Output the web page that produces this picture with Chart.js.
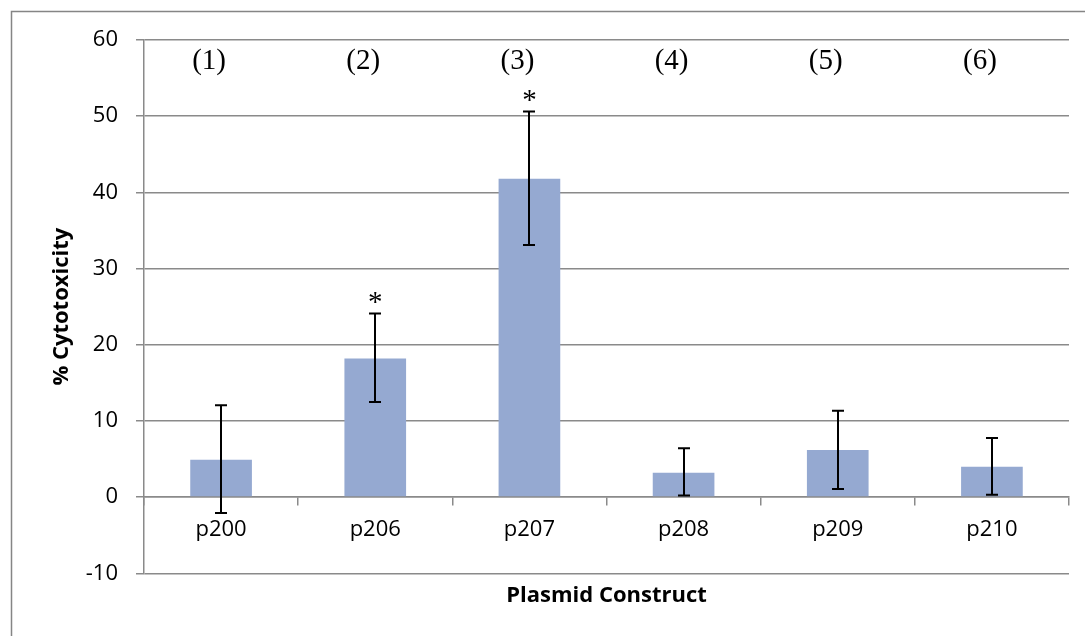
<!DOCTYPE html>
<html>
<head>
<meta charset="utf-8">
<script src="https://cdn.jsdelivr.net/npm/chart.js@4/dist/chart.umd.min.js"></script>
<style>
html,body{margin:0;padding:0;background:#fff;}
canvas{display:block;}
</style>
</head>
<body>
<canvas id="c" width="1085" height="636"></canvas>
<script>
// ---- data ----
const categories = ['p200', 'p206', 'p207', 'p208', 'p209', 'p210'];
const cytotoxicity = [4.9, 18.2, 41.8, 3.2, 6.2, 4.0];
const errorLow = [-2.1, 12.5, 33.1, 0.2, 1.05, 0.3];
const errorHigh = [12.05, 24.1, 50.6, 6.4, 11.35, 7.75];
const groupLabels = ['(1)', '(2)', '(3)', '(4)', '(5)', '(6)'];
const significance = ['', '*', '*', '', '', ''];
const yTicks = [-10, 0, 10, 20, 30, 40, 50, 60];

const GRID = '#8a8a8a';

const framePlugin = {
  id: 'frame',
  beforeDraw(chart) {
    const ctx = chart.ctx;
    ctx.save();
    ctx.fillStyle = '#fff';
    ctx.fillRect(0, 0, chart.width, chart.height);
    ctx.strokeStyle = '#858585';
    ctx.lineWidth = 1.5;
    ctx.strokeRect(11.5, 11.5, 2000, 2000);
    ctx.restore();
  }
};

const errorBarPlugin = {
  id: 'errorBars',
  afterDatasetsDraw(chart) {
    const ctx = chart.ctx;
    const ys = chart.scales.y;
    const meta = chart.getDatasetMeta(0);
    ctx.save();
    ctx.strokeStyle = '#000';
    ctx.lineWidth = 2;
    meta.data.forEach((bar, i) => {
      const x = Math.round(bar.x);
      const yl = ys.getPixelForValue(errorLow[i]);
      const yh = ys.getPixelForValue(errorHigh[i]);
      ctx.beginPath();
      ctx.moveTo(x, yl); ctx.lineTo(x, yh);
      ctx.moveTo(x - 6, yl); ctx.lineTo(x + 6, yl);
      ctx.moveTo(x - 6, yh); ctx.lineTo(x + 6, yh);
      ctx.stroke();
    });
    // annotations
    ctx.fillStyle = '#000';
    ctx.textAlign = 'center';
    ctx.textBaseline = 'middle';
    ctx.font = '29px "Liberation Serif", "Times New Roman", serif';
    const xs = chart.scales.x;
    groupLabels.forEach((t, i) => {
      ctx.fillText(t, xs.getPixelForValue(i) - 12, ys.getPixelForValue(57.2));
    });
    significance.forEach((t, i) => {
      if (!t) return;
      ctx.fillText(t, xs.getPixelForValue(i), ys.getPixelForValue(errorHigh[i]) - 10);
    });
    ctx.restore();
  }
};

new Chart(document.getElementById('c'), {
  type: 'bar',
  data: {
    labels: categories,
    datasets: [{
      data: cytotoxicity,
      backgroundColor: '#95a9d1',
      borderWidth: 0,
      barPercentage: 0.4,
      categoryPercentage: 1.0
    }]
  },
  options: {
    responsive: false,
    animation: false,
    events: [],
    layout: { padding: { left: 0, top: 40, right: 16, bottom: 0 } },
    plugins: {
      legend: { display: false },
      tooltip: { enabled: false },
      title: { display: false }
    },
    scales: {
      x: {
        position: { y: 0 },
        afterFit(scale) { scale.height = 0; },
        grid: {
          offset: true,
          drawOnChartArea: false,
          drawTicks: true,
          tickLength: 8,
          color: GRID,
          lineWidth: 1.5
        },
        border: { display: true, color: GRID, width: 1.5 },
        ticks: {
          color: '#000',
          padding: 11,
          font: { family: '"Open Sans", sans-serif', size: 22 }
        }
      },
      xTitle: {
        type: 'category',
        position: 'bottom',
        grid: { display: false, drawTicks: false },
        border: { display: false },
        ticks: { display: false },
        afterFit(scale) { scale.height = 62.7; },
        title: {
          display: true,
          text: 'Plasmid Construct',
          color: '#000',
          font: { family: '"Open Sans", sans-serif', size: 22, weight: 'bold' },
          padding: { top: 0, bottom: 27 }
        }
      },
      y: {
        min: -10,
        max: 60,
        afterFit(scale) { scale.width = 144; },
        afterBuildTicks(scale) { scale.ticks = yTicks.map(v => ({ value: v })); },
        grid: {
          color: GRID,
          lineWidth: 1.5,
          tickLength: 8
        },
        border: { display: true, color: GRID, width: 1.5 },
        ticks: {
          color: '#000',
          padding: 18,
          font: { family: '"Open Sans", sans-serif', size: 22 }
        },
        title: {
          display: true,
          text: '% Cytotoxicity',
          color: '#000',
          font: { family: '"Open Sans", sans-serif', size: 22, weight: 'bold' },
          padding: { top: 49, bottom: 0 }
        }
      }
    }
  },
  plugins: [framePlugin, errorBarPlugin]
});
</script>
</body>
</html>
